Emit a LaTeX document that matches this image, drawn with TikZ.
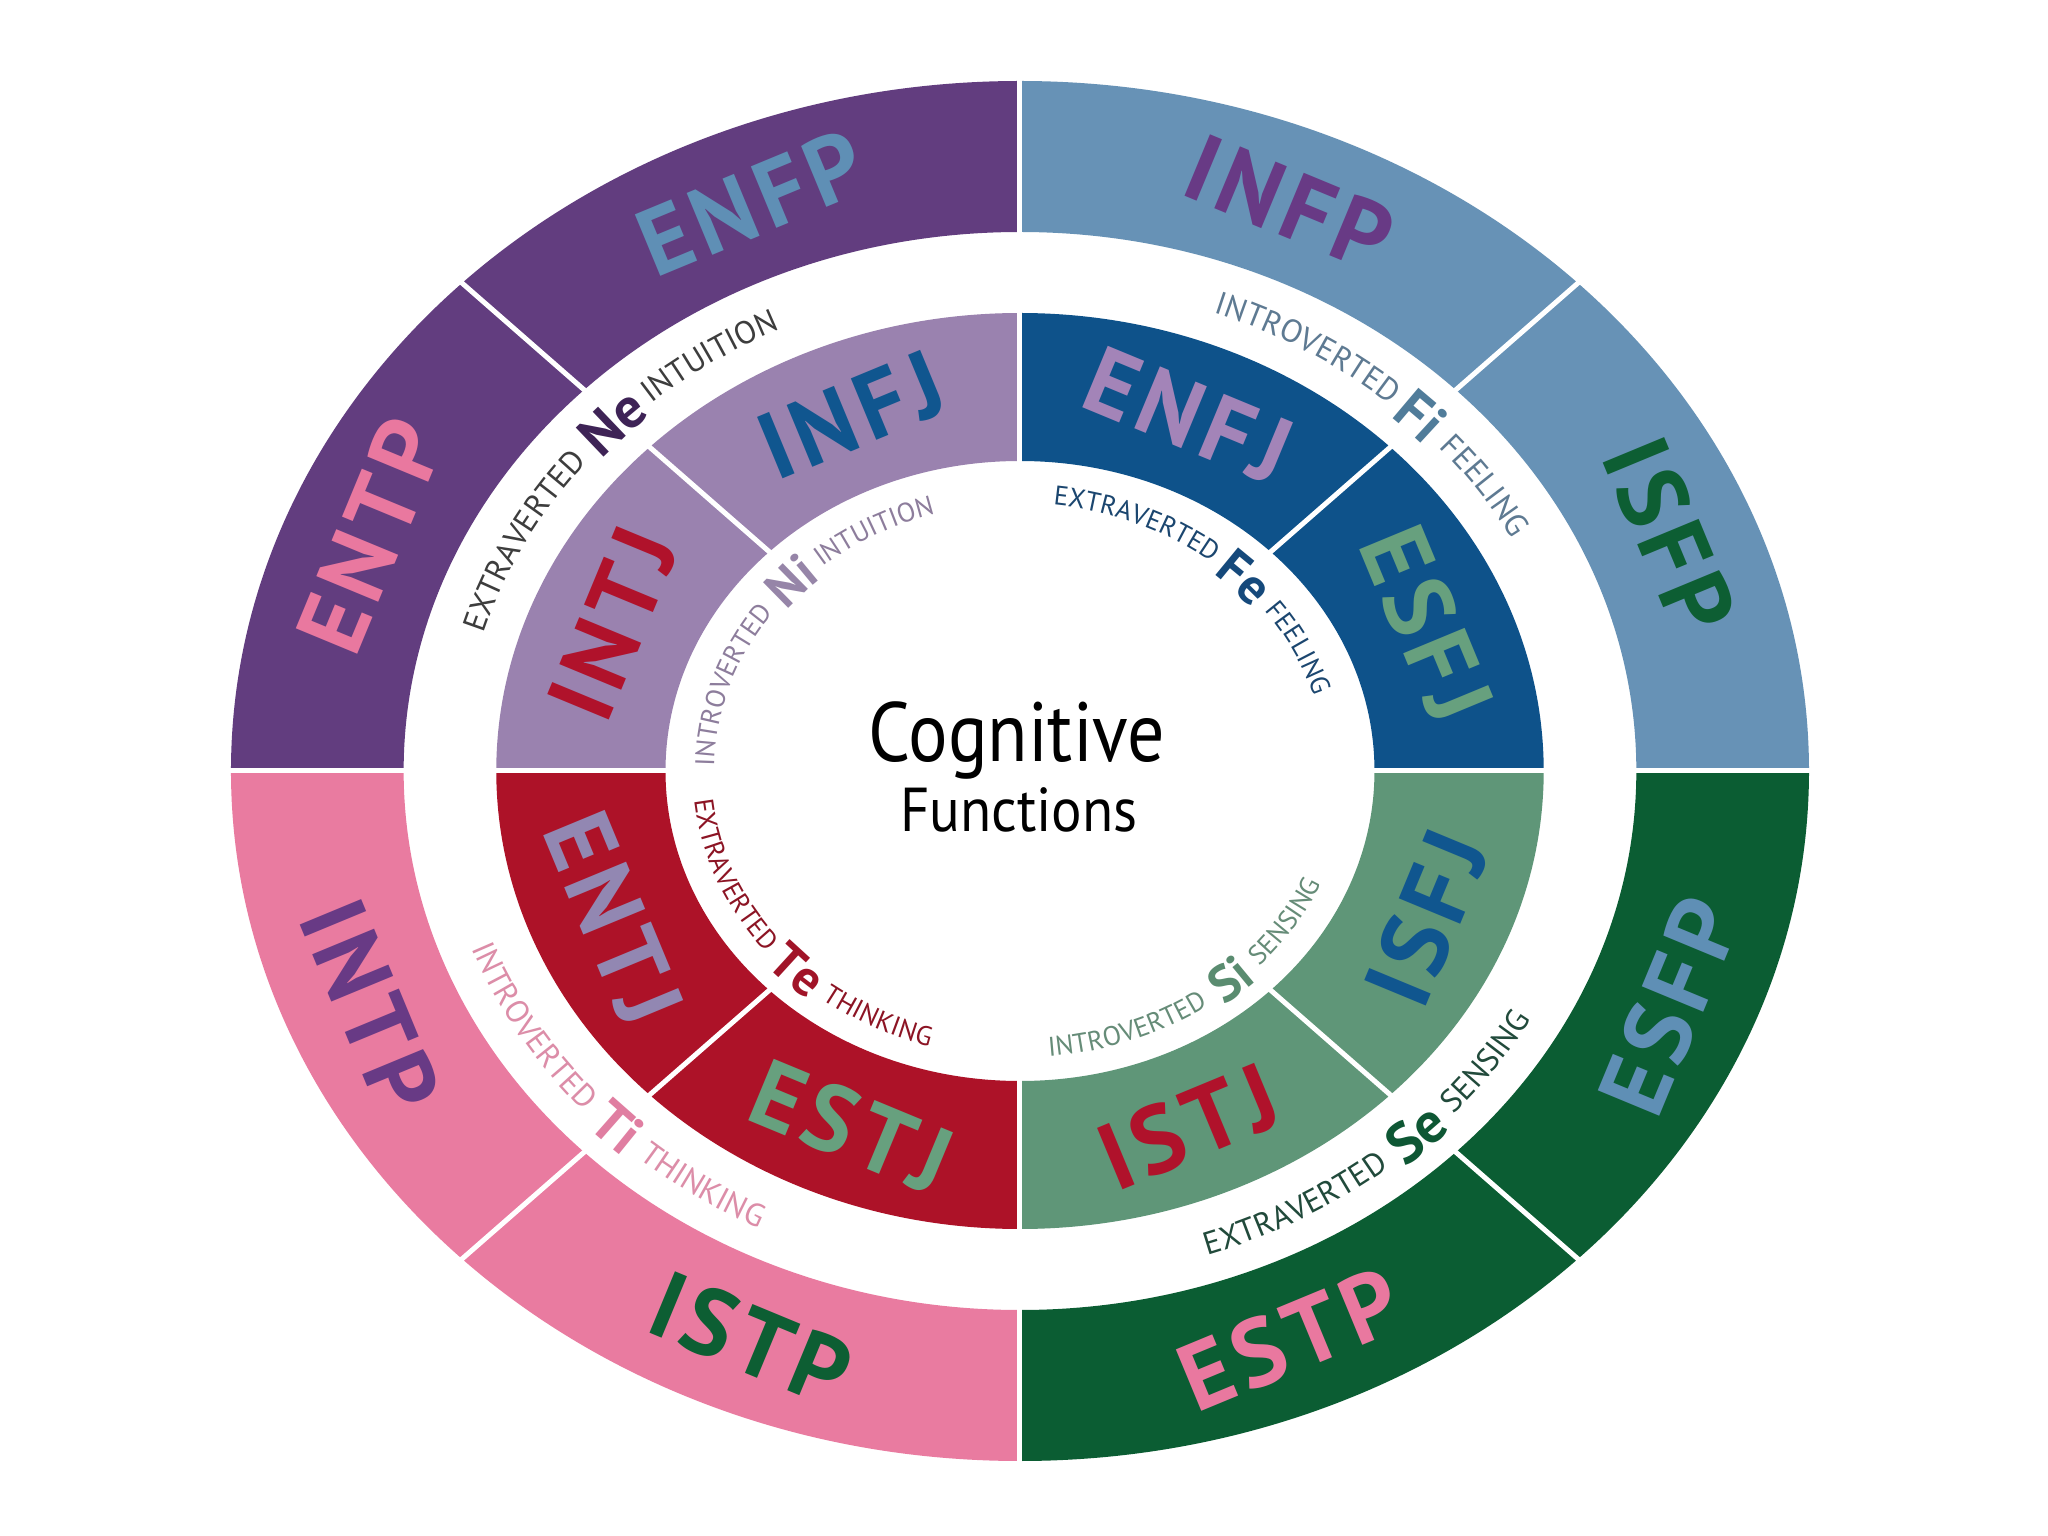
\documentclass[tikz,border=0pt]{standalone}
\usepackage{fontspec}
\usetikzlibrary{decorations.text}
\setmainfont{PT Sans}
\newfontfamily\typefam{PT Sans}[LetterSpace=7]
\newfontfamily\lblfam{PT Sans}
\newfontfamily\cogfam{PT Sans}[FakeStretch=0.88]
\newfontfamily\funfam{PT Sans}[FakeStretch=0.92]

% band colours
\definecolor{bandENFP}{HTML}{623D7F}
\definecolor{bandINFP}{HTML}{6792B6}
\definecolor{bandINTP}{HTML}{E97BA0}
\definecolor{bandESTP}{HTML}{0B5D33}
\definecolor{bandINTJ}{HTML}{9A82AF}
\definecolor{bandENFJ}{HTML}{0E528A}
\definecolor{bandENTJ}{HTML}{AD1228}
\definecolor{bandISTJ}{HTML}{5F9678}
% type text colours
\definecolor{txSteel}{HTML}{5F8FB5}
\definecolor{txPink}{HTML}{E9789F}
\definecolor{txPurple}{HTML}{683A85}
\definecolor{txGreen}{HTML}{0D5E33}
\definecolor{txRed}{HTML}{B0122B}
\definecolor{txNavy}{HTML}{10568F}
\definecolor{txLav}{HTML}{A384B8}
\definecolor{txSage}{HTML}{67A07E}
\definecolor{txLavGrey}{HTML}{9287B2}
% function label colours
\definecolor{NeW}{HTML}{3D3D3D}\definecolor{NeA}{HTML}{3E2356}
\definecolor{NiW}{HTML}{8D7D9C}\definecolor{NiA}{HTML}{9685A8}
\definecolor{FiW}{HTML}{5E7A92}\definecolor{FiA}{HTML}{507C9A}
\definecolor{FeW}{HTML}{1B466F}\definecolor{FeA}{HTML}{15497B}
\definecolor{TeW}{HTML}{8C1424}\definecolor{TeA}{HTML}{A11428}
\definecolor{TiW}{HTML}{DC8DA8}\definecolor{TiA}{HTML}{E07EA1}
\definecolor{SiW}{HTML}{668C78}\definecolor{SiA}{HTML}{5A8C70}
\definecolor{SeW}{HTML}{214A3B}\definecolor{SeA}{HTML}{0E5734}

\def\ellA{1.1435}
\def\gapW{11}
\def\curabbrpt{56}
\newlength\abbrwd
\newcommand\abbrsize{\lblfam\bfseries\fontsize{\curabbrpt}{\curabbrpt}\selectfont}
% measure an abbreviation at 50pt outside the picture (in pt, no unit)
\makeatletter
\newcommand\measureabbr[1]{%
  \settowidth\abbrwd{\lblfam\bfseries\fontsize{50}{50}\selectfont #1}%
  \expandafter\xdef\csname abw#1\endcsname{\strip@pt\abbrwd}}
\makeatother

% annular sector of the ellipse rings
\newcommand\sectorfill[5]{% colour, t1, t2, Router, Rinner
  \fill[#1] ({\ellA*#4*cos(#2)},{#4*sin(#2)})
    arc[start angle=#2,end angle=#3,x radius={\ellA*#4},y radius=#4]
    -- ({\ellA*#5*cos(#3)},{#5*sin(#3)})
    arc[start angle=#3,end angle=#2,x radius={\ellA*#5},y radius=#5] -- cycle;}

% curved function label: dir (1 top, -1 bottom), centre angle, radius,
% word colour, abbr colour, word1, abbr, word2, word size  (abbr size = \curabbrpt)
\newcommand\arclabel[9]{%
  \def\curwordfont{\lblfam\fontsize{#9}{#9}\selectfont}%
  \edef\curabw{\csname abw#7\endcsname}%
  \pgfmathsetmacro\lk{sqrt((\ellA*sin(#2))^2+(cos(#2))^2)}%
  \pgfmathsetmacro\ld{deg((0.5*\curabw*\curabbrpt/50+\gapW)/(\lk*#3))}%
  \pgfmathsetmacro\lrA{#3-(#1)*0.35*\curabbrpt}%
  \pgfmathsetmacro\lrW{#3-(#1)*0.35*#9}%
  \pgfmathsetmacro\lsA{#2+(#1)*9}\pgfmathsetmacro\leA{#2-(#1)*9}%
  \path[decorate,decoration={text along path,text align=center,text color=#5,text={|\abbrsize|#7}}]
    ({\ellA*\lrA*cos(\lsA)},{\lrA*sin(\lsA)})
    arc[start angle=\lsA,end angle=\leA,x radius={\ellA*\lrA},y radius=\lrA];
  \pgfmathsetmacro\lsA{#2+(#1)*75}\pgfmathsetmacro\leA{#2+(#1)*\ld}%
  \path[decorate,decoration={text along path,text align=right,text color=#4,text={|\curwordfont|#6}}]
    ({\ellA*\lrW*cos(\lsA)},{\lrW*sin(\lsA)})
    arc[start angle=\lsA,end angle=\leA,x radius={\ellA*\lrW},y radius=\lrW];
  \pgfmathsetmacro\lsA{#2-(#1)*\ld}\pgfmathsetmacro\leA{#2-(#1)*75}%
  \path[decorate,decoration={text along path,text align=left,text color=#4,text={|\curwordfont|#8}}]
    ({\ellA*\lrW*cos(\lsA)},{\lrW*sin(\lsA)})
    arc[start angle=\lsA,end angle=\leA,x radius={\ellA*\lrW},y radius=\lrW];
}

% straight type label in a ring segment
\newcommand\typelabel[5]{% name, angle, radius, colour, text
  \pgfmathsetmacro\trot{#2<180 ? #2-90 : #2+90}%
  \node[typelbl,text=#4,rotate=\trot] (#1) at ({\ellA*#3*cos(#2)},{#3*sin(#2)}) {#5};}

\begin{document}
\measureabbr{Ne}\measureabbr{Ni}\measureabbr{Fi}\measureabbr{Fe}%
\measureabbr{Te}\measureabbr{Ti}\measureabbr{Si}\measureabbr{Se}%
\begin{tikzpicture}[x=1pt,y=1pt,
  typelbl/.style={font=\typefam\bfseries\fontsize{95}{95}\selectfont,inner sep=0pt},
  divider/.style={draw=white,line width=5pt},
  centretext/.style={anchor=base,inner sep=0pt,text=black}]
\fill[white] (-1020,-765) rectangle (1028,771);
\useasboundingbox (-1020,-765) rectangle (1028,771);

% outer ring
\sectorfill{bandINFP}{0}{90}{690}{539}
\sectorfill{bandENFP}{90}{180}{690}{539}
\sectorfill{bandINTP}{180}{270}{690}{539}
\sectorfill{bandESTP}{270}{360}{690}{539}
% inner ring
\sectorfill{bandENFJ}{0}{90}{458}{310}
\sectorfill{bandINTJ}{90}{180}{458}{310}
\sectorfill{bandENTJ}{180}{270}{458}{310}
\sectorfill{bandISTJ}{270}{360}{458}{310}

% white dividers
\coordinate (dW) at (-800,0);
\coordinate (dE) at (800,0);
\coordinate (dN) at (0,700);
\coordinate (dS) at (0,-700);
\draw[divider] (dW) -- (dE);
\draw[divider] (dS) -- (dN);
\foreach \t [count=\i] in {45,135,225,315}{
  \coordinate (di\i) at ({\ellA*300*cos(\t)},{300*sin(\t)});
  \coordinate (do\i) at ({\ellA*700*cos(\t)},{700*sin(\t)});
  \draw[divider] (di\i) -- (do\i);
}

% outer ring types
\typelabel{enfp}{112.5}{615}{txSteel}{ENFP}
\typelabel{entp}{157.5}{615}{txPink}{ENTP}
\typelabel{infp}{67.5}{615}{txPurple}{INFP}
\typelabel{isfp}{22.5}{615}{txGreen}{ISFP}
\typelabel{intp}{202.5}{615}{txPurple}{INTP}
\typelabel{istp}{247.5}{615}{txGreen}{ISTP}
\typelabel{estp}{292.5}{615}{txPink}{ESTP}
\typelabel{esfp}{337.5}{615}{txSteel}{ESFP}
% inner ring types
\typelabel{infj}{112.5}{385}{txNavy}{INFJ}
\typelabel{intj}{157.5}{385}{txRed}{INTJ}
\typelabel{enfj}{67.5}{385}{txLav}{ENFJ}
\typelabel{esfj}{22.5}{385}{txSage}{ESFJ}
\typelabel{entj}{202.5}{385}{txLavGrey}{ENTJ}
\typelabel{estj}{247.5}{385}{txSage}{ESTJ}
\typelabel{istj}{292.5}{385}{txRed}{ISTJ}
\typelabel{isfj}{337.5}{385}{txNavy}{ISFJ}

% function labels (outer gap)
\def\curabbrpt{57}
\arclabel{1}{136}{500}{NeW}{NeA}{EXTRAVERTED}{Ne}{INTUITION}{32}
\arclabel{1}{45}{500}{FiW}{FiA}{INTROVERTED}{Fi}{FEELING}{32}
\arclabel{-1}{225.5}{500}{TiW}{TiA}{INTROVERTED}{Ti}{THINKING}{32}
\arclabel{-1}{313.5}{500}{SeW}{SeA}{EXTRAVERTED}{Se}{SENSING}{32}
% function labels (centre)
\def\curabbrpt{51}
\arclabel{1}{137}{277}{NiW}{NiA}{INTROVERTED}{Ni}{INTUITION}{27}
\arclabel{1}{44}{277}{FeW}{FeA}{EXTRAVERTED}{Fe}{FEELING}{27}
\arclabel{-1}{226}{277}{TeW}{TeA}{EXTRAVERTED}{Te}{THINKING}{27}
\arclabel{-1}{311}{277}{SiW}{SiA}{INTROVERTED}{Si}{SENSING}{27}

% centre title
\node[centretext,font=\cogfam\fontsize{84}{84}\selectfont] (cog) at (-3,9) {Cognitive};
\node[centretext,font=\funfam\fontsize{62}{62}\selectfont] (fun) at (-1,-61) {Functions};
\end{tikzpicture}
\end{document}
